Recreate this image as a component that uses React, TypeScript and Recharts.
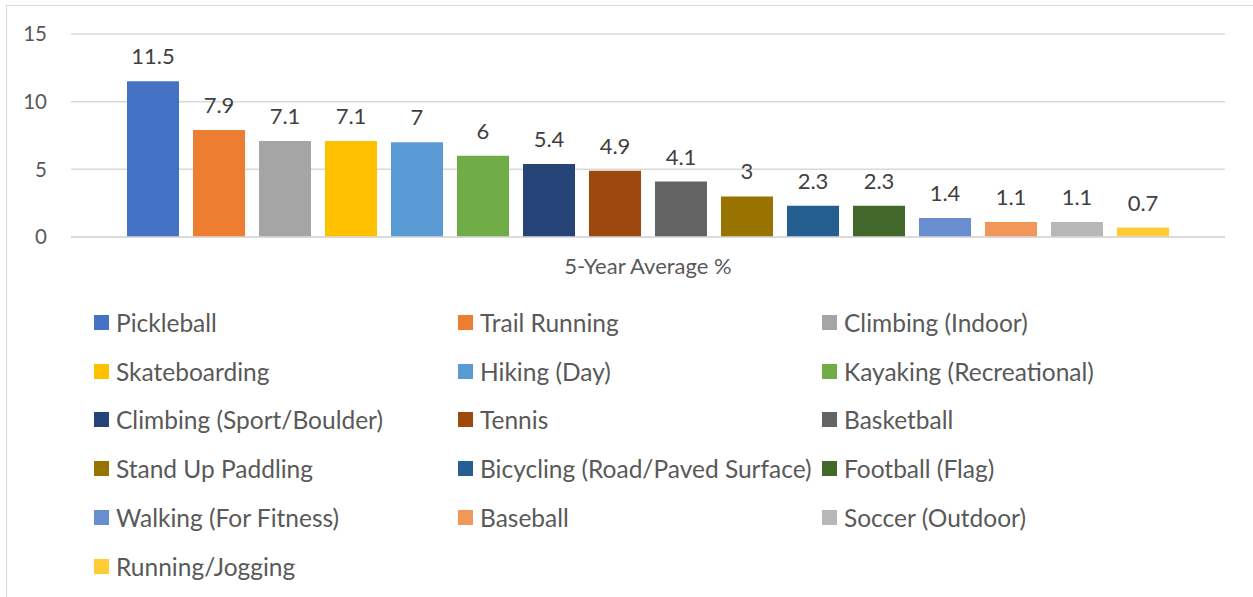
import React from 'react';
import { BarChart, Bar, XAxis, YAxis, CartesianGrid, Legend, LabelList } from 'recharts';

const categories = ['5-Year Average %'];
const sports = [
  'Pickleball', 'Trail Running', 'Climbing (Indoor)', 'Skateboarding', 'Hiking (Day)',
  'Kayaking (Recreational)', 'Climbing (Sport/Boulder)', 'Tennis', 'Basketball',
  'Stand Up Paddling', 'Bicycling (Road/Paved Surface)', 'Football (Flag)',
  'Walking (For Fitness)', 'Baseball', 'Soccer (Outdoor)', 'Running/Jogging',
];
const values = [11.5, 7.9, 7.1, 7.1, 7, 6, 5.4, 4.9, 4.1, 3, 2.3, 2.3, 1.4, 1.1, 1.1, 0.7];
const colors = [
  '#4472C4', '#ED7D31', '#A5A5A5', '#FFC000', '#5B9BD5', '#70AD47', '#264478', '#9E480E',
  '#636363', '#997300', '#255E91', '#43682B', '#698ED0', '#F1975A', '#B7B7B7', '#FFCD33',
];
const yTicks = [0, 5, 10, 15];

const data = categories.map((name) => {
  const row: Record<string, string | number> = { name };
  sports.forEach((s, i) => { row[s] = values[i]; });
  return row;
});

const FONT = 'Lato, "Open Sans", sans-serif';
const legendCols = [94, 458, 822];
const legendFirstCenter = 322.5;
const legendRowStep = 48.7;

const LegendContent = (props: any) => {
  const payload = [...(props.payload || [])].sort(
    (a: any, b: any) => sports.indexOf(a.value) - sports.indexOf(b.value)
  );
  return (
    <div style={{ position: 'relative', width: 1253, height: 597 }}>
      {payload.map((p: any, i: number) => {
        const col = i % 3;
        const row = Math.floor(i / 3);
        return (
          <div
            key={p.value}
            style={{
              position: 'absolute',
              left: legendCols[col],
              top: legendFirstCenter + row * legendRowStep - 17,
              height: 34,
              display: 'flex',
              alignItems: 'center',
              whiteSpace: 'nowrap',
              fontFamily: FONT,
              fontSize: 24.5,
              color: '#595959',
            }}
          >
            <span style={{ display: 'inline-block', width: 15, height: 15, background: p.color, marginRight: 7 }} />
            <span>{p.value}</span>
          </div>
        );
      })}
    </div>
  );
};

export default function App() {
  return (
    <div style={{ position: 'absolute', left: 0, top: 0, width: 1253, height: 597, background: '#fff', overflow: 'hidden' }}>
      <div style={{ position: 'absolute', left: 6, top: 5, width: 1260, height: 610, border: '1.5px solid #d9d9d9' }} />
      <BarChart
        width={1253}
        height={597}
        data={data}
        margin={{ top: 34, right: 28, bottom: 320, left: 0 }}
        barSize={52}
        barGap={14}
      >
        <CartesianGrid vertical={false} stroke="#d9d9d9" strokeWidth={1.5} />
        <XAxis
          dataKey="name"
          height={40}
          axisLine={{ stroke: '#d9d9d9', strokeWidth: 1.5 }}
          tickLine={false}
          tickSize={0}
          tickMargin={21}
          tick={{ fill: '#595959', fontSize: 22, fontFamily: FONT }}
        />
        <YAxis
          width={71}
          domain={[0, 15]}
          ticks={yTicks}
          axisLine={false}
          tickLine={false}
          tickSize={0}
          tickMargin={24}
          tick={{ fill: '#595959', fontSize: 20.5, fontFamily: FONT }}
        />
        <Legend
          layout="horizontal"
          verticalAlign="middle"
          align="center"
          wrapperStyle={{ top: 0, left: 0, width: 1253, height: 597, pointerEvents: 'none' }}
          content={<LegendContent />}
        />
        {sports.map((s, i) => (
          <Bar key={s} dataKey={s} name={s} fill={colors[i]} isAnimationActive={false}>
            <LabelList
              dataKey={s}
              position="top"
              offset={17}
              fill="#404040"
              fontSize={22}
              fontFamily={FONT}
            />
          </Bar>
        ))}
      </BarChart>
    </div>
  );
}
